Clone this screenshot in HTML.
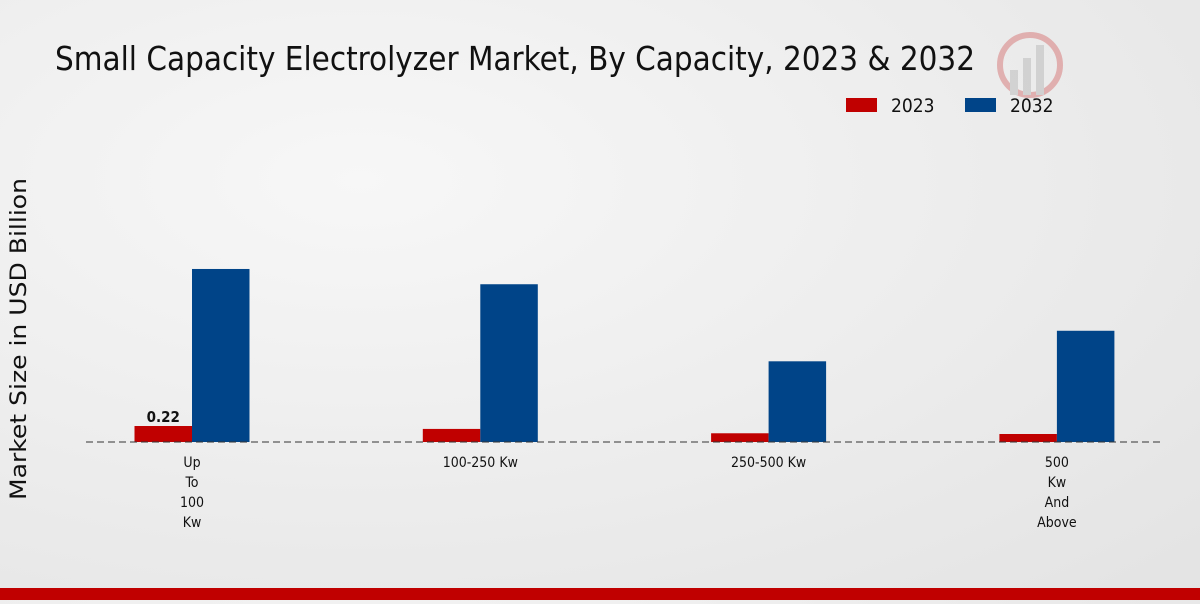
<!DOCTYPE html>
<html><head><meta charset="utf-8"><style>
body{margin:0;width:1200px;height:600px;overflow:hidden;background:radial-gradient(ellipse at 30% 30%,#f7f7f7 0%,#ebebeb 60%,#e3e3e3 100%);font-family:"DejaVu Sans Condensed","Liberation Sans",sans-serif;}
</style></head><body>
<svg width="1200" height="600" xmlns="http://www.w3.org/2000/svg" id="chart">
<text x="55" y="70" font-size="33" textLength="920" lengthAdjust="spacingAndGlyphs" fill="#111" font-family="DejaVu Sans Condensed, Liberation Sans, sans-serif">Small Capacity Electrolyzer Market, By Capacity, 2023 &amp; 2032</text>
<g>
<rect x="846" y="98" width="31" height="14" fill="#c00000"/>
<text x="891" y="112" font-size="19" fill="#111">2023</text>
<rect x="965" y="98" width="31" height="14" fill="#004488"/>
<text x="1010" y="112" font-size="19" fill="#111">2032</text>
</g>
<text transform="translate(26,339) rotate(-90)" text-anchor="middle" font-size="22" textLength="322" lengthAdjust="spacingAndGlyphs" font-family="DejaVu Sans, sans-serif" fill="#111">Market Size in USD Billion</text>
<g id="bars"></g>
<line x1="86" y1="442" x2="1163" y2="442" stroke="#333" stroke-dasharray="7,4"/>
<g id="labels"></g>
<g opacity="0.25">
<circle cx="1030" cy="65" r="30" fill="none" stroke="#c00000" stroke-width="6"/>
<rect x="1010" y="70" width="8" height="25" fill="#888"/><rect x="1023" y="58" width="8" height="37" fill="#888"/><rect x="1036" y="45" width="8" height="50" fill="#888"/>
</g>
<rect x="0" y="588" width="1200" height="12" fill="#c00000"/>
</svg>
<script>
const categories=[["Up","To","100","Kw"],["100-250 Kw"],["250-500 Kw"],["500","Kw","And","Above"]];
const values2023=[0.22,0.18,0.12,0.11];
const values2032=[2.38,2.17,1.11,1.53];
const ns="http://www.w3.org/2000/svg";
const base=442,scale=72.7,bw=57.5;
function xc(i){return 192+i*288.3;}
function y(v){return base-v*scale;}
const bars=document.getElementById('bars'),labels=document.getElementById('labels');
function mk(t,a){const e=document.createElementNS(ns,t);for(const k in a)e.setAttribute(k,a[k]);return e;}
categories.forEach((c,i)=>{
  const r1=mk('rect',{x:xc(i)-bw,y:y(values2023[i]),width:bw,height:values2023[i]*scale,fill:'#c00000'});
  
  
  bars.appendChild(r1);
  const r2=mk('rect',{x:xc(i),y:y(values2032[i]),width:bw,height:values2032[i]*scale,fill:'#004488'});
  
  
  bars.appendChild(r2);
  c.forEach((line,j)=>{
    const t=mk('text',{x:xc(i),y:467+j*20,'text-anchor':'middle','font-size':'14',fill:'#111'});
    t.textContent=line;
    
    
    labels.appendChild(t);
  });
});
const vl=mk('text',{x:xc(0)-bw/2,y:y(values2023[0])-4,'text-anchor':'middle','font-size':'15','font-weight':'bold',fill:'#111'});
vl.textContent=values2023[0].toFixed(2);


labels.appendChild(vl);
</script>
</body></html>
